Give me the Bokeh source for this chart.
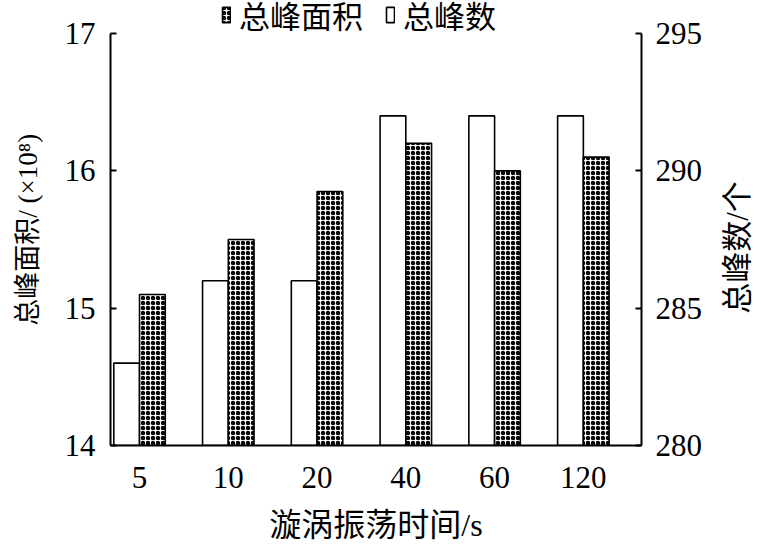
import math
from bokeh.plotting import figure
from bokeh.layouts import row
from bokeh.models import (Range1d, LinearAxis, FixedTicker, Legend, LegendItem,
                          ColumnDataSource)
from bokeh.core.properties import value
from bokeh.embed import file_html
from bokeh.resources import INLINE

# data
times = ["5", "10", "20", "40", "60", "120"]
peak_area = [15.1, 15.5, 15.85, 16.2, 16.0, 16.1]   # 总峰面积 (×10^8), left axis
peak_count = [283, 286, 286, 292, 292, 292]          # 总峰数, right axis
left_ticks = [14, 15, 16, 17]
right_ticks = [280, 285, 290, 295]
right_title = "总峰数/个"

xs = list(range(len(times)))
BW = 0.29
FONT = "Liberation Serif, Noto Sans CJK SC"
FS = "31px"
HEAD = 0.2403  # headroom above the top tick (room for the legend), in left-axis units

p = figure(width=716, height=550, output_backend="svg", toolbar_location=None,
           x_range=Range1d(-0.327, 5.655), y_range=Range1d(14, 17 + HEAD),
           min_border_left=110, min_border_right=75, min_border_top=0, min_border_bottom=105)
p.extra_y_ranges = {"cnt": Range1d(280, 295 + HEAD * 5)}
p.outline_line_color = None
p.xgrid.visible = False
p.ygrid.visible = False
p.background_fill_color = "white"
p.border_fill_color = "white"

src = ColumnDataSource(dict(x=xs, area=peak_area, cnt=peak_count,
                            xl=[x - BW / 2 for x in xs], xr=[x + BW / 2 for x in xs]))

r_cnt = p.vbar(x="xl", top="cnt", bottom=280, width=BW, source=src, y_range_name="cnt",
               fill_color="white", line_color="black", line_width=1.6)
r_area = p.vbar(x="xr", top="area", bottom=14, width=BW, source=src,
                fill_color="white", line_color="black", line_width=1.6,
                hatch_pattern="ring", hatch_color="black", hatch_scale=5, hatch_weight=1.9)

# x axis
xa = p.xaxis[0]
xa.ticker = FixedTicker(ticks=xs)
xa.major_label_overrides = {i: t for i, t in enumerate(times)}
xa.axis_label = "漩涡振荡时间/s"
xa.major_tick_line_color = None
xa.minor_tick_line_color = None
xa.major_label_standoff = 15
xa.axis_label_standoff = 16

# left axis
ya = p.yaxis[0]
ya.ticker = FixedTicker(ticks=left_ticks)
ya.bounds = (14, 17)
ya.axis_label = "总峰面积/ (×10⁸)\u2002"
ya.major_tick_in = 6
ya.major_tick_out = 0
ya.minor_tick_line_color = None
ya.major_label_standoff = 15
ya.axis_label_standoff = 19

# right axis
ra = LinearAxis(y_range_name="cnt", ticker=FixedTicker(ticks=right_ticks))
ra.bounds = (280, 295)
ra.major_tick_in = 6
ra.major_tick_out = 0
ra.minor_tick_line_color = None
ra.major_label_standoff = 14
p.add_layout(ra, "right")

for ax in [xa, ya, ra]:
    ax.axis_line_color = "black"
    ax.axis_line_width = 2
    ax.major_tick_line_width = 2
    ax.major_label_text_font = FONT
    ax.major_label_text_font_size = FS
    ax.major_label_text_color = "black"
    ax.axis_label_text_font = FONT
    ax.axis_label_text_font_style = "normal"
    ax.axis_label_text_color = "black"
xa.axis_label_text_font_size = "32px"
ya.axis_label_text_font_size = "27px"

legend = Legend(items=[LegendItem(label="总峰面积", renderers=[r_area]),
                       LegendItem(label="总峰数", renderers=[r_cnt])],
                orientation="horizontal", location=(111, 408),
                glyph_width=10, glyph_height=19, label_standoff=8, spacing=22,
                padding=0, margin=0, border_line_color=None, background_fill_alpha=0,
                label_text_font=FONT, label_text_font_size="31px", label_text_color="black")
p.add_layout(legend, "center")

# narrow strip holding the right-axis title (reads bottom-to-top);
# its frame spans the same 445 px as the main plot's frame
p2 = figure(width=40, height=550, output_backend="svg", toolbar_location=None,
            x_range=Range1d(0, 40), y_range=Range1d(0, 445),
            x_axis_type=None, y_axis_type=None,
            min_border_left=0, min_border_right=0, min_border_top=0, min_border_bottom=105)
p2.outline_line_color = None
p2.xgrid.visible = False
p2.ygrid.visible = False
p2.border_fill_color = "white"
p2.text(x=[21], y=[198], text=[right_title], angle=math.pi / 2,
        text_align="center", text_baseline="middle",
        text_font=value(FONT), text_font_size=value("31px"), text_color="black")

open("out.html", "w").write(file_html(row(p, p2), INLINE))
